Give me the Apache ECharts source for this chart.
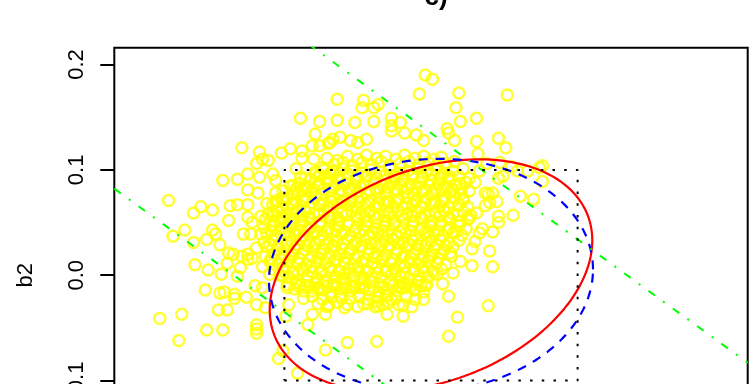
<!DOCTYPE html>
<html>
<head>
<meta charset="utf-8">
<script src="https://cdn.jsdelivr.net/npm/echarts@6/dist/echarts.min.js"></script>
<style>
  html, body { margin: 0; padding: 0; background: #fff; }
  #chart { width: 753px; height: 384px; }
</style>
</head>
<body>
<div id="chart"></div>
<script>
// axis range (both axes) and y ticks
const axisLimit = 0.216;
const yTicks = [-0.2, -0.1, 0, 0.1, 0.2];

// reference shapes
const boxHalf = 0.1;                 // dotted square +-0.1
const redEllipse = [0.11, 0.3];      // radius, correlation
const blueEllipse = [0.1105, 0.05];
const guideSlope = -1.01;
const guideIntercepts = [-0.136, 0.135];

// scattered estimates (b1, b2)
const leftPoints = [
  [-0.129,0.121],[-0.142,0.090],[-0.132,0.091],[-0.125,0.096],[-0.125,0.081],[-0.179,0.071],[-0.157,0.065],
  [-0.162,0.059],[-0.149,0.062],[-0.137,0.066],[-0.132,0.067],[-0.125,0.067],[-0.138,0.052],[-0.125,0.055],
  [-0.168,0.043],[-0.149,0.043],[-0.147,0.039],[-0.153,0.034],[-0.176,0.037],[-0.162,0.031],[-0.144,0.029],
  [-0.138,0.021],[-0.128,0.039],[-0.129,0.018],[-0.135,0.020],[-0.139,0.011],[-0.125,0.020],[-0.161,0.010],
  [-0.152,0.005],[-0.143,0.001],[-0.130,0.007],[-0.132,-0.001],[-0.154,-0.014],[-0.144,-0.017],[-0.141,-0.016],
  [-0.134,-0.018],[-0.134,-0.022],[-0.126,-0.021],[-0.185,-0.041],[-0.170,-0.037],[-0.145,-0.033],[-0.139,-0.033],
  [-0.172,-0.062],[-0.153,-0.052],[-0.142,-0.052],
  [-0.117,0.117],[-0.115,0.110],[-0.111,0.109],[-0.119,0.106],[-0.102,0.116],[-0.096,0.120],[-0.088,0.118],
  [-0.088,0.111],[-0.081,0.123],[-0.076,0.123],[-0.070,0.125],[-0.067,0.129],[-0.080,0.110],[-0.071,0.111],
  [-0.117,0.093],[-0.108,0.096],[-0.106,0.090],[-0.092,0.101],[-0.086,0.092],[-0.118,0.078],[-0.106,0.078],
  [-0.122,0.050],[-0.112,0.068],[-0.106,0.070],[-0.101,0.073],[-0.108,0.059],[-0.098,0.064],[-0.094,0.054],
  [-0.103,0.051],[-0.088,0.053],[-0.091,0.077],[-0.094,0.085],[-0.085,0.083],[-0.076,0.087],[-0.067,0.099],
  [-0.074,0.102],[-0.079,0.096],[-0.064,0.109]
];
const upperPoints = [
  [-0.089,0.149],[-0.076,0.146],[-0.064,0.167],[-0.079,0.134],[-0.004,0.190],[0.001,0.186],[-0.008,0.172],
  [0.019,0.173],[0.052,0.171],[-0.046,0.166],[-0.047,0.159],[-0.039,0.159],[-0.036,0.162],[0.017,0.159],
  [-0.064,0.147],[-0.052,0.145],[-0.039,0.146],[-0.027,0.149],[-0.027,0.142],[-0.021,0.145],[0.020,0.146],
  [0.031,0.149],[-0.027,0.137],[-0.018,0.135],[-0.010,0.133],[0.011,0.139],[0.012,0.135],[0.016,0.128],
  [-0.005,0.128],[0.031,0.127],[0.046,0.130],[0.051,0.121],[0.032,0.115],[-0.069,0.126],[-0.062,0.131],
  [-0.055,0.128],[-0.050,0.126],[-0.044,0.129]
];
const rightPoints = [
  [0.076,0.104],[0.074,0.102],[0.066,0.099],[0.059,0.099],[0.049,0.094],[0.046,0.092],[0.030,0.088],
  [0.061,0.075],[0.070,0.072],[0.076,0.089],[0.056,0.057],[0.040,0.069],[0.045,0.070],[0.037,0.078],
  [0.042,0.078],[0.039,0.077],[0.037,0.066],[0.031,0.059],[0.040,0.023],[0.025,0.053],[0.022,0.073],
  [0.046,0.050],[0.046,0.056],[0.033,0.040],[0.035,0.044],[0.030,0.032],[0.055,0.103],[0.047,0.107],
  [0.038,0.106],[0.033,0.099],[0.042,0.041],[0.028,0.025],[0.028,0.009],[0.042,0.008],[0.015,0.002],
  [0.020,0.013],[0.012,-0.020],[0.039,-0.029],[0.018,-0.040],[0.020,0.087]
];
const lowerPoints = [
  [0.013,0.021],[0.008,-0.008],[-0.004,-0.010],[-0.005,-0.023],[-0.011,-0.013],[-0.019,-0.008],[-0.027,-0.023],
  [-0.033,-0.028],[-0.038,-0.030],[-0.046,-0.027],[-0.059,-0.031],[-0.061,-0.022],[-0.071,-0.030],[-0.072,-0.037],
  [-0.081,-0.037],[-0.084,-0.047],[-0.019,-0.039],[-0.013,-0.030],[0.012,-0.058],[-0.037,-0.063],[-0.057,-0.064],
  [-0.072,-0.071],[-0.091,-0.093],[-0.104,-0.079],[-0.101,-0.072],[-0.119,-0.055],[-0.119,-0.047],[-0.119,-0.028],
  [-0.113,-0.031],[-0.120,-0.010],[-0.115,0.008],[-0.110,0.001],[-0.098,-0.012],[-0.101,-0.001],[-0.089,-0.009],
  [-0.081,-0.015],[-0.076,-0.013],[-0.067,-0.009],[-0.060,-0.003],[-0.054,-0.012],[-0.048,-0.004],[-0.046,-0.012],
  [-0.037,-0.025],[-0.031,-0.020],[-0.119,-0.051],[-0.099,-0.039],[-0.116,0.056],[-0.123,0.039],[-0.116,0.039],
  [-0.119,0.026],[-0.122,0.016],[-0.125,0.015],[-0.115,-0.012],[-0.019,-0.028],[-0.030,-0.037],[-0.097,-0.028],
  [-0.070,-0.028]
];
const corePoints = [
  [-0.057,0.113],[-0.050,0.110],[-0.044,0.114],[-0.037,0.111],[-0.031,0.113],[-0.024,0.110],[-0.018,0.114],[-0.011,0.111],[-0.005,0.113],[0.002,0.110],[0.007,0.112],
  [-0.066,0.105],[-0.060,0.107],[-0.053,0.104],[-0.047,0.107],[-0.041,0.105],[-0.034,0.108],[-0.028,0.104],[-0.021,0.106],[-0.015,0.108],[-0.008,0.105],[-0.002,0.107],[0.004,0.104],[0.010,0.106],[0.016,0.108],
  [-0.079,0.098],[-0.073,0.100],[-0.066,0.097],[-0.060,0.101],[-0.054,0.099],[-0.047,0.097],[-0.041,0.100],[-0.035,0.098],[-0.028,0.101],[-0.022,0.097],[-0.016,0.099],[-0.009,0.101],[-0.003,0.098],[0.003,0.100],[0.009,0.097],[0.015,0.099],[0.022,0.101],
  [-0.089,0.093],[-0.082,0.091],[-0.076,0.094],[-0.070,0.092],[-0.063,0.090],[-0.057,0.093],[-0.051,0.091],[-0.044,0.094],[-0.038,0.092],[-0.032,0.090],[-0.025,0.093],[-0.019,0.091],[-0.013,0.094],[-0.006,0.092],[0.000,0.090],[0.006,0.093],[0.013,0.091],[0.019,0.094],[0.026,0.092],
  [-0.096,0.085],[-0.090,0.087],[-0.084,0.084],[-0.077,0.086],[-0.071,0.088],[-0.065,0.085],[-0.058,0.087],[-0.052,0.084],[-0.046,0.086],[-0.039,0.088],[-0.033,0.085],[-0.027,0.087],[-0.020,0.084],[-0.014,0.086],[-0.008,0.088],[-0.001,0.085],[0.005,0.087],[0.011,0.084],[0.017,0.086],[0.024,0.088],
  [-0.101,0.080],[-0.094,0.078],[-0.088,0.081],[-0.082,0.079],[-0.075,0.077],[-0.069,0.080],[-0.063,0.078],[-0.056,0.081],[-0.050,0.079],[-0.044,0.077],[-0.037,0.080],[-0.031,0.078],[-0.025,0.081],[-0.018,0.079],[-0.012,0.077],[-0.006,0.080],[0.001,0.078],[0.007,0.081],[0.013,0.079],[0.020,0.077],[0.026,0.080],
  [-0.105,0.071],[-0.098,0.073],[-0.092,0.070],[-0.086,0.072],[-0.079,0.074],[-0.073,0.071],[-0.067,0.073],[-0.060,0.070],[-0.054,0.072],[-0.048,0.074],[-0.041,0.071],[-0.035,0.073],[-0.029,0.070],[-0.022,0.072],[-0.016,0.074],[-0.010,0.071],[-0.003,0.073],[0.003,0.070],[0.009,0.072],[0.016,0.074],[0.022,0.071],
  [-0.108,0.067],[-0.102,0.065],[-0.095,0.068],[-0.089,0.066],[-0.083,0.064],[-0.076,0.067],[-0.070,0.065],[-0.064,0.068],[-0.057,0.066],[-0.051,0.064],[-0.045,0.067],[-0.038,0.065],[-0.032,0.068],[-0.026,0.066],[-0.019,0.064],[-0.013,0.067],[-0.007,0.065],[0.000,0.068],[0.006,0.066],[0.012,0.064],[0.019,0.067],[0.025,0.065],
  [-0.111,0.058],[-0.105,0.060],[-0.099,0.057],[-0.092,0.059],[-0.086,0.061],[-0.080,0.058],[-0.073,0.060],[-0.067,0.057],[-0.061,0.059],[-0.054,0.061],[-0.048,0.058],[-0.042,0.060],[-0.035,0.057],[-0.029,0.059],[-0.023,0.061],[-0.016,0.058],[-0.010,0.060],[-0.004,0.057],[0.003,0.059],[0.009,0.061],[0.015,0.058],[0.022,0.060],[0.027,0.057],
  [-0.113,0.053],[-0.107,0.051],[-0.101,0.054],[-0.094,0.052],[-0.088,0.050],[-0.082,0.053],[-0.075,0.051],[-0.069,0.054],[-0.063,0.052],[-0.056,0.050],[-0.050,0.053],[-0.044,0.051],[-0.037,0.054],[-0.031,0.052],[-0.025,0.050],[-0.018,0.053],[-0.012,0.051],[-0.006,0.054],[0.001,0.052],[0.007,0.050],[0.013,0.053],[0.020,0.051],[0.026,0.054],
  [-0.114,0.045],[-0.108,0.047],[-0.101,0.044],[-0.095,0.046],[-0.089,0.048],[-0.082,0.045],[-0.076,0.047],[-0.070,0.044],[-0.063,0.046],[-0.057,0.048],[-0.051,0.045],[-0.044,0.047],[-0.038,0.044],[-0.032,0.046],[-0.025,0.048],[-0.019,0.045],[-0.013,0.047],[-0.006,0.044],[0.000,0.046],[0.006,0.048],[0.013,0.045],[0.019,0.047],[0.024,0.044],
  [-0.112,0.040],[-0.106,0.038],[-0.099,0.041],[-0.093,0.039],[-0.087,0.037],[-0.080,0.040],[-0.074,0.038],[-0.068,0.041],[-0.061,0.039],[-0.055,0.037],[-0.049,0.040],[-0.042,0.038],[-0.036,0.041],[-0.030,0.039],[-0.023,0.037],[-0.017,0.040],[-0.011,0.038],[-0.004,0.041],[0.002,0.039],[0.008,0.037],[0.015,0.040],[0.021,0.038],
  [-0.114,0.031],[-0.108,0.033],[-0.102,0.030],[-0.095,0.032],[-0.089,0.034],[-0.083,0.031],[-0.076,0.033],[-0.070,0.030],[-0.064,0.032],[-0.057,0.034],[-0.051,0.031],[-0.045,0.033],[-0.038,0.030],[-0.032,0.032],[-0.026,0.034],[-0.019,0.031],[-0.013,0.033],[-0.007,0.030],[0.000,0.032],[0.006,0.034],[0.012,0.031],[0.019,0.033],
  [-0.112,0.027],[-0.105,0.025],[-0.099,0.028],[-0.093,0.026],[-0.086,0.024],[-0.080,0.027],[-0.074,0.025],[-0.067,0.028],[-0.061,0.026],[-0.055,0.024],[-0.048,0.027],[-0.042,0.025],[-0.036,0.028],[-0.029,0.026],[-0.023,0.024],[-0.017,0.027],[-0.010,0.025],[-0.004,0.028],[0.002,0.026],[0.009,0.024],[0.015,0.027],
  [-0.113,0.018],[-0.107,0.020],[-0.100,0.017],[-0.094,0.019],[-0.088,0.021],[-0.081,0.018],[-0.075,0.020],[-0.069,0.017],[-0.062,0.019],[-0.056,0.021],[-0.050,0.018],[-0.043,0.020],[-0.037,0.017],[-0.031,0.019],[-0.024,0.021],[-0.018,0.018],[-0.012,0.020],[-0.005,0.017],[0.001,0.019],[0.007,0.021],[0.014,0.018],
  [-0.110,0.013],[-0.104,0.011],[-0.097,0.014],[-0.091,0.012],[-0.085,0.010],[-0.078,0.013],[-0.072,0.011],[-0.066,0.014],[-0.059,0.012],[-0.053,0.010],[-0.047,0.013],[-0.040,0.011],[-0.034,0.014],[-0.028,0.012],[-0.021,0.010],[-0.015,0.013],[-0.009,0.011],[-0.002,0.014],[0.004,0.012],[0.010,0.010],
  [-0.107,0.005],[-0.101,0.007],[-0.094,0.004],[-0.088,0.006],[-0.082,0.008],[-0.075,0.005],[-0.069,0.007],[-0.063,0.004],[-0.056,0.006],[-0.050,0.008],[-0.044,0.005],[-0.037,0.007],[-0.031,0.004],[-0.025,0.006],[-0.018,0.008],[-0.012,0.005],[-0.006,0.007],[0.001,0.004],[0.007,0.006],
  [-0.103,0.000],[-0.097,-0.002],[-0.091,0.001],[-0.084,-0.001],[-0.078,-0.003],[-0.072,0.000],[-0.065,-0.002],[-0.059,0.001],[-0.053,-0.001],[-0.046,-0.003],[-0.040,0.000],[-0.034,-0.002],[-0.027,0.001],[-0.021,-0.001],[-0.015,-0.003],[-0.008,0.000],[-0.002,-0.002],[0.004,0.001],
  [-0.098,-0.009],[-0.092,-0.007],[-0.085,-0.010],[-0.079,-0.008],[-0.073,-0.006],[-0.066,-0.009],[-0.060,-0.007],[-0.054,-0.010],[-0.047,-0.008],[-0.041,-0.006],[-0.035,-0.009],[-0.028,-0.007],[-0.022,-0.010],[-0.016,-0.008],[-0.009,-0.006],[-0.003,-0.009],
  [-0.093,-0.013],[-0.087,-0.015],[-0.080,-0.012],[-0.074,-0.014],[-0.068,-0.016],[-0.061,-0.013],[-0.055,-0.015],[-0.049,-0.012],[-0.042,-0.014],[-0.036,-0.016],[-0.030,-0.013],[-0.023,-0.015],[-0.017,-0.012],[-0.011,-0.014],[-0.005,-0.016],
  [-0.087,-0.022],[-0.081,-0.020],[-0.074,-0.023],[-0.068,-0.021],[-0.062,-0.019],[-0.055,-0.022],[-0.049,-0.020],[-0.043,-0.023],[-0.036,-0.021],[-0.030,-0.019],[-0.024,-0.022],[-0.017,-0.020],[-0.011,-0.023],
  [-0.077,-0.027],[-0.070,-0.029],[-0.064,-0.026],[-0.057,-0.028],[-0.050,-0.030],[-0.043,-0.027],[-0.036,-0.029],[-0.029,-0.026],[-0.022,-0.028]
];
const denseCore = [
  [-0.076,0.095],[-0.069,0.096],[-0.063,0.094],[-0.057,0.096],[-0.050,0.095],[-0.044,0.094],[-0.038,0.096],[-0.031,0.095],[-0.025,0.094],[-0.019,0.096],[-0.012,0.095],[-0.006,0.094],[0.000,0.096],[0.007,0.095],[0.012,0.094],
  [-0.092,0.082],[-0.086,0.083],[-0.080,0.081],[-0.073,0.082],[-0.067,0.083],[-0.061,0.081],[-0.054,0.082],[-0.048,0.083],[-0.042,0.081],[-0.035,0.082],[-0.029,0.083],[-0.023,0.081],[-0.016,0.082],[-0.010,0.083],[-0.004,0.081],[0.003,0.082],[0.009,0.083],[0.015,0.081],[0.021,0.082],
  [-0.100,0.069],[-0.094,0.068],[-0.087,0.070],[-0.081,0.069],[-0.074,0.068],[-0.068,0.070],[-0.062,0.069],[-0.055,0.068],[-0.049,0.070],[-0.043,0.069],[-0.036,0.068],[-0.030,0.070],[-0.024,0.069],[-0.017,0.068],[-0.011,0.070],[-0.005,0.069],[0.002,0.068],[0.008,0.070],[0.014,0.069],
  [-0.108,0.056],[-0.102,0.055],[-0.096,0.057],[-0.089,0.056],[-0.083,0.055],[-0.077,0.057],[-0.070,0.056],[-0.064,0.055],[-0.058,0.057],[-0.051,0.056],[-0.045,0.055],[-0.039,0.057],[-0.032,0.056],[-0.026,0.055],[-0.020,0.057],[-0.013,0.056],[-0.007,0.055],[-0.001,0.057],[0.006,0.056],[0.012,0.055],[0.018,0.057],
  [-0.109,0.042],[-0.103,0.043],[-0.097,0.041],[-0.090,0.042],[-0.084,0.043],[-0.078,0.041],[-0.071,0.042],[-0.065,0.043],[-0.059,0.041],[-0.052,0.042],[-0.046,0.043],[-0.040,0.041],[-0.033,0.042],[-0.027,0.043],[-0.021,0.041],[-0.014,0.042],[-0.008,0.043],[-0.002,0.041],[0.005,0.042],[0.011,0.043],[0.017,0.041],
  [-0.110,0.029],[-0.104,0.028],[-0.098,0.030],[-0.091,0.029],[-0.085,0.028],[-0.079,0.030],[-0.072,0.029],[-0.066,0.028],[-0.060,0.030],[-0.053,0.029],[-0.047,0.028],[-0.041,0.030],[-0.034,0.029],[-0.028,0.028],[-0.022,0.030],[-0.015,0.029],[-0.009,0.028],[-0.003,0.030],[0.004,0.029],[0.010,0.028],
  [-0.109,0.016],[-0.102,0.015],[-0.096,0.017],[-0.090,0.016],[-0.083,0.015],[-0.077,0.017],[-0.071,0.016],[-0.064,0.015],[-0.058,0.017],[-0.052,0.016],[-0.045,0.015],[-0.039,0.017],[-0.033,0.016],[-0.026,0.015],[-0.020,0.017],[-0.014,0.016],[-0.007,0.015],[-0.001,0.017],[0.005,0.016],
  [-0.100,0.003],[-0.094,0.002],[-0.087,0.004],[-0.081,0.003],[-0.075,0.002],[-0.068,0.004],[-0.062,0.003],[-0.056,0.002],[-0.049,0.004],[-0.043,0.003],[-0.037,0.002],[-0.030,0.004],[-0.024,0.003],[-0.018,0.002],[-0.011,0.004],[-0.005,0.003],[0.002,0.002],
  [-0.090,-0.011],[-0.083,-0.010],[-0.077,-0.012],[-0.071,-0.011],[-0.064,-0.010],[-0.058,-0.012],[-0.052,-0.011],[-0.045,-0.010],[-0.039,-0.012],[-0.033,-0.011],[-0.026,-0.010],[-0.020,-0.012],[-0.014,-0.011],[-0.007,-0.010]
];

function ellipsePath(r, rho) {
  const s = Math.sqrt(1 - rho * rho);
  const pts = [];
  for (let i = 0; i <= 180; i++) {
    const t = (2 * Math.PI * i) / 180;
    pts.push([r * Math.cos(t), r * (rho * Math.cos(t) + s * Math.sin(t))]);
  }
  return pts;
}

const boxPath = [
  [-boxHalf, -boxHalf], [boxHalf, -boxHalf], [boxHalf, boxHalf], [-boxHalf, boxHalf], [-boxHalf, -boxHalf]
];

const font = 'Liberation Sans';
const chart = echarts.init(document.getElementById('chart'), null, { renderer: 'canvas' });

const guideSeries = guideIntercepts.map(c => ({
  type: 'line',
  data: [[-axisLimit, c - guideSlope * axisLimit], [axisLimit, c + guideSlope * axisLimit]],
  showSymbol: false,
  silent: true,
  lineStyle: { color: '#00ff00', width: 2, type: [8, 10, 2, 10] }
}));

chart.setOption({
  animation: false,
  backgroundColor: '#fff',
  title: {
    text: 'c)',
    left: 431,
    textAlign: 'center',
    top: -20,
    textStyle: { fontSize: 26, fontWeight: 'bold', color: '#000', fontFamily: font }
  },
  grid: {
    left: 114.3, top: 47.7, width: 633.4, height: 455,
    outerBoundsMode: 'none', containLabel: false,
    show: true, borderColor: '#000', borderWidth: 2, backgroundColor: 'transparent'
  },
  xAxis: {
    type: 'value', min: -axisLimit, max: axisLimit,
    axisLine: { show: false, onZero: false }, axisTick: { show: false }, axisLabel: { show: false },
    splitLine: { show: false }
  },
  yAxis: {
    type: 'value', min: -axisLimit, max: axisLimit,
    name: 'b2', nameLocation: 'middle', nameRotate: 90, nameGap: 77,
    nameTextStyle: { fontSize: 22, color: '#000', fontFamily: font },
    axisLine: { show: false, onZero: false },
    axisTick: { show: true, customValues: yTicks, length: 14, lineStyle: { color: '#000', width: 2 } },
    axisLabel: {
      customValues: yTicks, rotate: 90, margin: 26, fontSize: 22, color: '#000', fontFamily: font,
      formatter: v => v.toFixed(1)
    },
    splitLine: { show: false }
  },
  series: [
    {
      type: 'scatter',
      data: [].concat(corePoints, denseCore, leftPoints, upperPoints, rightPoints, lowerPoints),
      symbol: 'circle',
      symbolSize: 11,
      silent: true,
      itemStyle: { color: 'rgba(0,0,0,0)', borderColor: '#ffff00', borderWidth: 2.5 }
    },
    {
      type: 'line',
      data: ellipsePath(redEllipse[0], redEllipse[1]),
      showSymbol: false, silent: true,
      lineStyle: { color: '#ff0000', width: 2.2 }
    },
    {
      type: 'line',
      data: ellipsePath(blueEllipse[0], blueEllipse[1]),
      showSymbol: false, silent: true,
      lineStyle: { color: '#0000ff', width: 2.2, type: [9, 8] }
    },
    ...guideSeries,
    {
      type: 'line',
      data: boxPath,
      showSymbol: false, silent: true,
      lineStyle: { color: '#000', width: 2, type: [2.5, 9.2] }
    }
  ]
});

window.addEventListener('resize', () => chart.resize());
</script>
</body>
</html>
